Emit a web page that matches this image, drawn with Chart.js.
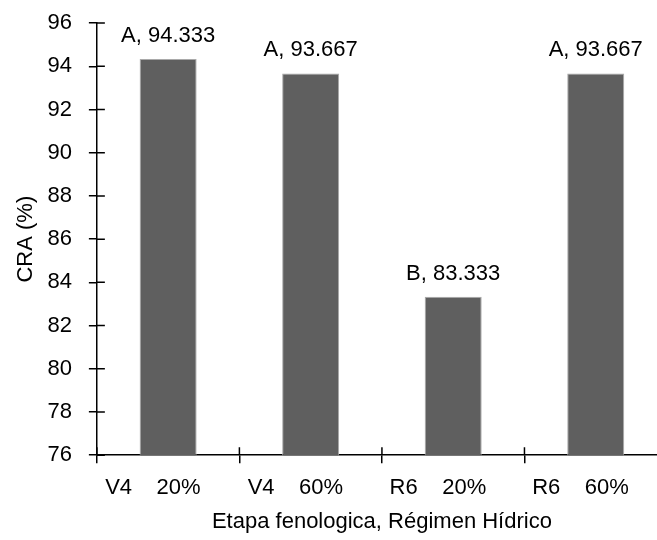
<!DOCTYPE html>
<html>
<head>
<meta charset="utf-8">
<script src="https://cdn.jsdelivr.net/npm/chart.js@4.4.1/dist/chart.umd.min.js"></script>
<style>
  html, body { margin: 0; padding: 0; background: #fff; overflow: hidden; }
  #wrap { width: 672px; height: 540px; position: relative; }
</style>
</head>
<body>
<div id="wrap"><canvas id="chart"></canvas></div>
<script>
// --- Data ---
const stages = ['V4', 'V4', 'R6', 'R6'];
const regimes = ['20%', '60%', '20%', '60%'];
const craValues = [94.333, 93.667, 83.333, 93.667];
const groupLetters = ['A', 'A', 'B', 'A'];
const yTicks = [76, 78, 80, 82, 84, 86, 88, 90, 92, 94, 96];

const FONT = "'Liberation Sans', Arial, sans-serif";
const FONT_SIZE = 22;

Chart.defaults.font.family = FONT;
Chart.defaults.font.size = FONT_SIZE;
Chart.defaults.color = '#000';

// labels: "V4    20%" (trailing spaces nudge the centre left like the original)
const NB = '\u00a0';
const categories = stages.map((s, i) => s + NB.repeat(4) + regimes[i] + NB.repeat(5));

// --- Value labels above bars ---
const barLabels = {
    id: 'barLabels',
    afterDatasetsDraw(chart) {
        const ctx = chart.ctx;
        const meta = chart.getDatasetMeta(0);
        ctx.save();
        ctx.font = FONT_SIZE + 'px ' + FONT;
        ctx.fillStyle = '#000';
        ctx.textAlign = 'center';
        ctx.textBaseline = 'alphabetic';
        meta.data.forEach((bar, i) => {
            const txt = groupLetters[i] + ', ' + craValues[i].toFixed(3);
            ctx.fillText(txt, bar.x, bar.y - 17);
        });
        ctx.restore();
    }
};

// --- Ticks crossing the axis lines (inner half) ---
const crossTicks = {
    id: 'crossTicks',
    afterDraw(chart) {
        const ctx = chart.ctx;
        const x = chart.scales.x, y = chart.scales.y;
        const len = 8;
        ctx.save();
        ctx.strokeStyle = '#000';
        ctx.lineWidth = 1.5;
        ctx.beginPath();
        yTicks.forEach(v => {
            const py = y.getPixelForValue(v);
            ctx.moveTo(x.left, py);
            ctx.lineTo(x.left + len, py);
        });
        const step = x.getPixelForValue(1) - x.getPixelForValue(0);
        for (let i = 0; i <= categories.length; i++) {
            const px = x.getPixelForValue(i) - step / 2;
            ctx.moveTo(px, y.bottom);
            ctx.lineTo(px, y.bottom - len);
        }
        ctx.stroke();
        ctx.restore();
    }
};

new Chart(document.getElementById('chart'), {
    type: 'bar',
    data: {
        labels: categories,
        datasets: [{
            data: craValues,
            backgroundColor: '#5f5f5f',
            borderColor: '#a9a9a9',
            borderWidth: { left: 1, right: 1, top: 1, bottom: 0 },
            barPercentage: 0.4,
            categoryPercentage: 1.0
        }]
    },
    options: {
        responsive: true,
        maintainAspectRatio: false,
        animation: false,
        layout: { padding: { top: 0, right: 5, left: 0, bottom: 5 } },
        plugins: {
            legend: { display: false },
            tooltip: { enabled: false }
        },
        scales: {
            x: {
                offset: true,
                grid: {
                    offset: true,
                    drawOnChartArea: false,
                    tickLength: 8,
                    color: '#000',
                    lineWidth: 1.5
                },
                border: { color: '#000', width: 1.5 },
                ticks: { padding: 12, maxRotation: 0, autoSkip: false },
                title: {
                    display: true,
                    text: 'Etapa fenologica, Régimen Hídrico',
                    padding: { top: -5, bottom: 0 }
                }
            },
            y: {
                min: 76,
                max: 96,
                afterBuildTicks(scale) {
                    scale.ticks = yTicks.map(v => ({ value: v }));
                },
                grid: {
                    drawOnChartArea: false,
                    tickLength: 8,
                    color: '#000',
                    lineWidth: 1.5
                },
                border: { color: '#000', width: 1.5 },
                ticks: { padding: 17, font: { lineHeight: 0.55 } },
                title: {
                    display: true,
                    text: 'CRA (%)',
                    padding: { top: 13, bottom: -9 }
                }
            }
        }
    },
    plugins: [barLabels, crossTicks]
});
</script>
</body>
</html>
